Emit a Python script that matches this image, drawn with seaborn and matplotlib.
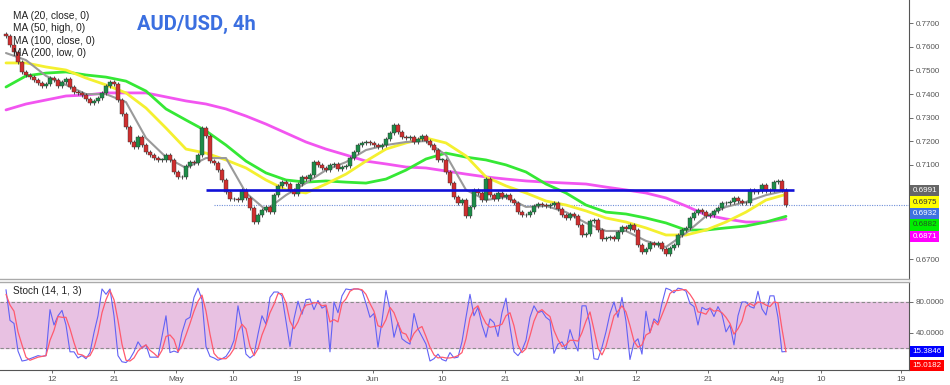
import numpy as np
import matplotlib
matplotlib.use("Agg")
import matplotlib.pyplot as plt
import matplotlib.transforms as mtransforms
import seaborn as sns

# ---- data (4h candles, closes; open = previous close) ----
first_open = 0.7655
closes = [
    0.7646, 0.7608, 0.7579, 0.7536, 0.7494, 0.7481, 0.7473, 0.7460, 0.7447, 0.7434,
    0.7443, 0.7468, 0.7460, 0.7434, 0.7451, 0.7464, 0.7430, 0.7409, 0.7405, 0.7396,
    0.7379, 0.7362, 0.7371, 0.7383, 0.7405, 0.7434, 0.7451, 0.7443, 0.7375, 0.7316,
    0.7260, 0.7197, 0.7176, 0.7218, 0.7184, 0.7154, 0.7142, 0.7129, 0.7121, 0.7121,
    0.7142, 0.7121, 0.7070, 0.7048, 0.7048, 0.7095, 0.7112, 0.7108, 0.7142, 0.7256,
    0.7222, 0.7116, 0.7108, 0.7078, 0.7036, 0.6985, 0.6955, 0.6955, 0.6951, 0.6993,
    0.6960, 0.6917, 0.6858, 0.6887, 0.6909, 0.6921, 0.6900, 0.6972, 0.7010, 0.7027,
    0.7019, 0.6993, 0.6976, 0.7019, 0.7048, 0.7040, 0.7057, 0.7112, 0.7099, 0.7087,
    0.7078, 0.7099, 0.7104, 0.7082, 0.7091, 0.7095, 0.7129, 0.7154, 0.7184, 0.7193,
    0.7197, 0.7193, 0.7184, 0.7176, 0.7184, 0.7210, 0.7235, 0.7269, 0.7239, 0.7218,
    0.7214, 0.7218, 0.7197, 0.7210, 0.7222, 0.7201, 0.7184, 0.7163, 0.7121, 0.7121,
    0.7070, 0.7023, 0.6964, 0.6938, 0.6951, 0.6883, 0.6921, 0.6993, 0.6981, 0.6951,
    0.7040, 0.6972, 0.6955, 0.6981, 0.6964, 0.6972, 0.6951, 0.6938, 0.6900, 0.6887,
    0.6887, 0.6900, 0.6926, 0.6934, 0.6930, 0.6926, 0.6930, 0.6938, 0.6913, 0.6887,
    0.6875, 0.6892, 0.6883, 0.6845, 0.6803, 0.6807, 0.6862, 0.6866, 0.6824, 0.6786,
    0.6790, 0.6794, 0.6786, 0.6815, 0.6837, 0.6828, 0.6845, 0.6824, 0.6760, 0.6731,
    0.6743, 0.6769, 0.6760, 0.6769, 0.6743, 0.6722, 0.6748, 0.6760, 0.6803, 0.6824,
    0.6832, 0.6875, 0.6896, 0.6909, 0.6900, 0.6883, 0.6887, 0.6904, 0.6917, 0.6938,
    0.6938, 0.6943, 0.6960, 0.6947, 0.6938, 0.6938, 0.6993, 0.6985, 0.6989, 0.7015,
    0.6989, 0.6993, 0.7027, 0.7032, 0.6993, 0.6932,
]

# moving averages, read every 5th candle
ma20 = [0.7574, 0.7544, 0.7477, 0.7439, 0.7400, 0.7400, 0.7366, 0.7214, 0.7133, 0.7087,
        0.7129, 0.7129, 0.6981, 0.6909, 0.6972, 0.7023, 0.7078, 0.7112, 0.7163, 0.7184,
        0.7197, 0.7201, 0.7142, 0.6994, 0.6951, 0.6964, 0.6922, 0.6926, 0.6900, 0.6854,
        0.6820, 0.6820, 0.6778, 0.6752, 0.6811, 0.6883, 0.6922, 0.6943, 0.6972, 0.6991]
ma50 = [0.7532, 0.7532, 0.7515, 0.7502, 0.7468, 0.7439, 0.7405, 0.7341, 0.7256, 0.7167,
        0.7150, 0.7121, 0.7087, 0.7036, 0.6994, 0.6981, 0.7019, 0.7061, 0.7116, 0.7167,
        0.7193, 0.7214, 0.7193, 0.7138, 0.7049, 0.7011, 0.6981, 0.6947, 0.6930, 0.6905,
        0.6875, 0.6858, 0.6833, 0.6803, 0.6803, 0.6824, 0.6858, 0.6900, 0.6951, 0.6975]
ma100 = [0.7430, 0.7477, 0.7489, 0.7494, 0.7481, 0.7472, 0.7455, 0.7413, 0.7337, 0.7290,
         0.7244, 0.7184, 0.7116, 0.7066, 0.7036, 0.7027, 0.7032, 0.7027, 0.7023, 0.7040,
         0.7078, 0.7125, 0.7150, 0.7133, 0.7121, 0.7100, 0.7070, 0.7019, 0.6981, 0.6930,
         0.6900, 0.6892, 0.6875, 0.6854, 0.6824, 0.6824, 0.6833, 0.6841, 0.6858, 0.6882]
ma200 = [0.7333, 0.7358, 0.7375, 0.7392, 0.7396, 0.7405, 0.7405, 0.7405, 0.7388, 0.7371,
         0.7358, 0.7337, 0.7307, 0.7273, 0.7235, 0.7197, 0.7167, 0.7142, 0.7116, 0.7104,
         0.7091, 0.7087, 0.7074, 0.7061, 0.7049, 0.7040, 0.7032, 0.7027, 0.7023, 0.7019,
         0.7006, 0.6994, 0.6981, 0.6960, 0.6926, 0.6888, 0.6871, 0.6858, 0.6858, 0.6871]

stoch_k = [96, 56, 52, 16, 3, 4, 6, 8, 10, 9,
           10, 70, 50, 62, 69, 50, 15, 15, 7, 10,
           6, 14, 40, 62, 97, 90, 97, 62, 10, 2,
           1, 6, 15, 28, 20, 24, 8, 8, 8, 35,
           62, 14, 16, 14, 40, 57, 60, 86, 98, 83,
           22, 9, 7, 4, 6, 9, 17, 30, 75, 48,
           12, 7, 11, 38, 62, 51, 86, 93, 93, 88,
           55, 22, 58, 81, 64, 83, 84, 70, 82, 72,
           75, 15, 80, 66, 88, 97, 96, 97, 97, 95,
           78, 60, 65, 21, 55, 95, 70, 34, 53, 32,
           28, 25, 65, 45, 35, 25, 3, 6, 12, 5,
           3, 14, 7, 8, 28, 60, 90, 62, 73, 50,
           34, 58, 53, 35, 66, 85, 48, 15, 10, 17,
           30, 60, 75, 66, 68, 60, 56, 13, 25, 28,
           18, 44, 28, 16, 75, 75, 50, 6, 5, 21,
           41, 65, 80, 60, 86, 55, 5, 27, 32, 12,
           68, 40, 58, 53, 78, 98, 96, 92, 98, 97,
           94, 78, 74, 50, 73, 70, 72, 61, 74, 64,
           41, 50, 24, 62, 80, 80, 74, 72, 94, 71,
           63, 88, 88, 60, 15, 15.3846]
stoch_d = [90, 76, 68, 41, 24, 8, 4, 6, 8, 9,
           10, 30, 43, 61, 60, 60, 45, 27, 12, 11,
           8, 10, 20, 39, 66, 83, 95, 83, 56, 25,
           4, 3, 7, 16, 21, 24, 17, 13, 8, 17,
           35, 37, 31, 15, 23, 37, 52, 68, 81, 89,
           68, 38, 13, 7, 6, 6, 11, 19, 41, 51,
           45, 22, 10, 19, 37, 50, 66, 77, 91, 91,
           79, 55, 45, 54, 68, 76, 77, 79, 79, 75,
           76, 54, 57, 54, 78, 84, 94, 97, 97, 96,
           90, 78, 68, 49, 47, 57, 73, 66, 52, 40,
           38, 28, 39, 45, 48, 35, 21, 11, 7, 8,
           7, 7, 8, 10, 14, 32, 59, 71, 75, 62,
           52, 47, 48, 49, 51, 62, 66, 49, 24, 14,
           19, 36, 55, 67, 70, 65, 61, 43, 31, 22,
           24, 30, 30, 29, 40, 55, 67, 44, 20, 11,
           22, 42, 62, 68, 75, 67, 49, 29, 21, 24,
           37, 40, 55, 50, 63, 76, 91, 95, 95, 96,
           96, 90, 82, 67, 66, 64, 72, 68, 69, 66,
           60, 52, 38, 45, 55, 74, 78, 75, 80, 79,
           76, 74, 80, 79, 45, 15.0182]

# horizontal support drawn on the chart
support_level = 0.6994
support_from, support_to = 50, 197
price_line_from = 52

date_pos = [11.4, 27, 42.5, 56.75, 72.75, 91.75, 109, 124.75, 143.25, 157.5, 175.5, 193, 203.75, 223.75]
date_labels = ["12", "21", "May", "10", "19", "Jun", "10", "21", "Jul", "12", "21", "Aug", "10", "19"]
price_ticks = [0.67, 0.71, 0.72, 0.73, 0.74, 0.75, 0.76, 0.77]
stoch_ticks = [40, 80]

# ---- style ----
sns.set_theme(style="white")
plt.rcParams["font.family"] = ["Liberation Sans", "DejaVu Sans"]

GREEN, RED = "#1d8c48", "#cf2f2f"
C20, C50, C100, C200 = "#9a9a9a", "#f4f030", "#35e835", "#f255f0"
AXC = "#555555"

fig = plt.figure(figsize=(9.5, 3.85), dpi=100)
ax = fig.add_axes([0.0, 0.2753, 0.9568, 0.7247])
ax2 = fig.add_axes([0.0, 0.039, 0.9568, 0.2286])

idx = np.arange(len(closes))
c = np.array(closes)
o = np.concatenate([[first_open], c[:-1]])
lo = np.minimum(o, c)
hi = np.maximum(o, c)
WICK = 0.0009

ma_idx = idx[::5]
for vals, col, lw in [(ma200, C200, 2.0), (ma100, C100, 2.0), (ma50, C50, 2.0), (ma20, C20, 1.5)]:
    sns.lineplot(x=ma_idx, y=vals, ax=ax, color=col, linewidth=lw, legend=False, zorder=2)

ax.vlines(idx, lo - WICK, hi + WICK, color="#4a4a4a", linewidth=0.7, zorder=3)
ax.bar(idx, np.maximum(hi - lo, 0.00025), bottom=lo, width=0.78,
       color=np.where(c >= o, GREEN, RED), edgecolor="#333333", linewidth=0.3, zorder=4)

ax.hlines(support_level, support_from, support_to, color="#1010d8", linewidth=1.9, zorder=5)
ax.hlines(closes[-1], price_line_from, 226, color="#6f8fd8", linewidth=0.8,
          linestyles=(0, (1, 1.2)), zorder=1)

ax.set_xlim(-1.5, 225.75)
ax.set_ylim(0.66165, 0.77987)
ax.set_xticks([])
ax.yaxis.tick_right()
ax.set_yticks(price_ticks)
ax.set_yticklabels([f"{t:.4f}" for t in price_ticks])
ax.tick_params(axis="y", labelsize=5.8, colors=AXC, length=3, width=0.6, pad=2)
for s in ["left", "top"]:
    ax.spines[s].set_visible(False)
ax.spines["right"].set_color(AXC)
ax.spines["right"].set_linewidth(0.8)
ax.spines["bottom"].set_color("#aaaaaa")
ax.spines["bottom"].set_linewidth(1.0)

# last-value boxes on the price axis (stacked so they do not overlap)
trans = mtransforms.blended_transform_factory(ax.transAxes, ax.transData)
boxes = [(ma20[-1], "#666666", "white"),
         (ma50[-1], "#ffff00", "#333333"),
         (closes[-1], "#3f72e0", "white"),
         (ma100[-1], "#00ee00", "#225522"),
         (ma200[-1], "#ff00ff", "white")]
for k, (v, fc, tc) in enumerate(boxes):
    ax.text(1.004, boxes[0][0] - k * 0.00485, f"{v:.4f}", transform=trans, fontsize=5.8,
            color=tc, va="center", ha="left", clip_on=False,
            bbox=dict(boxstyle="square,pad=0.28", fc=fc, ec="none"))

# ---- stochastic pane ----
ax2.axhspan(20, 80, color="#e8c1e2", zorder=0)
for lvl in (20, 80):
    ax2.axhline(lvl, color="#8a8a8a", linewidth=0.8, linestyle=(0, (3, 2)), zorder=1)
sns.lineplot(x=idx, y=stoch_k, ax=ax2, color="#6262f5", linewidth=0.8, legend=False, zorder=2)
sns.lineplot(x=idx, y=stoch_d, ax=ax2, color="#ff5a6e", linewidth=0.9, legend=False, zorder=3)
ax2.set_xlim(-1.5, 225.75)
ax2.set_ylim(-8.7, 106.1)
ax2.yaxis.tick_right()
ax2.set_yticks(stoch_ticks)
ax2.set_yticklabels([f"{t:.4f}" for t in stoch_ticks])
ax2.set_xticks(date_pos)
ax2.set_xticklabels(date_labels)
ax2.tick_params(axis="y", labelsize=5.8, colors=AXC, length=3, width=0.6, pad=2)
ax2.tick_params(axis="x", labelsize=6, colors=AXC, length=2, width=0.6, pad=2, bottom=True)
ax2.spines["left"].set_visible(False)
ax2.spines["top"].set_color("#aaaaaa")
ax2.spines["top"].set_linewidth(1.0)
for s in ["right", "bottom"]:
    ax2.spines[s].set_color(AXC)
    ax2.spines[s].set_linewidth(0.8)

trans2 = mtransforms.blended_transform_factory(ax2.transAxes, ax2.transData)
ax2.text(1.004, stoch_k[-1], f"{stoch_k[-1]:.4f}", transform=trans2, fontsize=5.8, color="white",
         va="center", ha="left", clip_on=False, bbox=dict(boxstyle="square,pad=0.28", fc="#0000ff", ec="none"))
ax2.text(1.004, stoch_k[-1] - 18.5, f"{stoch_d[-1]:.4f}", transform=trans2, fontsize=5.8, color="white",
         va="center", ha="left", clip_on=False, bbox=dict(boxstyle="square,pad=0.28", fc="#ff0000", ec="none"))

# ---- texts ----
fig.text(13 / 950, 1 - 291 / 385, "Stoch (14, 1, 3)", fontsize=7.2, color="#222222", va="center")
for k, lab in enumerate(["MA (20, close, 0)", "MA (50, high, 0)", "MA (100, close, 0)", "MA (200, low, 0)"]):
    fig.text(13 / 950, 1 - (15.7 + 12.5 * k) / 385, lab, fontsize=7.3, color="#222222", va="center")
fig.text(137 / 950, 1 - 24 / 385, "AUD/USD, 4h", fontsize=14.5, fontweight="bold",
         color="#3b6fe0", va="center", family=["Roboto", "DejaVu Sans"])

fig.savefig("out.png", dpi=100, facecolor="white")
